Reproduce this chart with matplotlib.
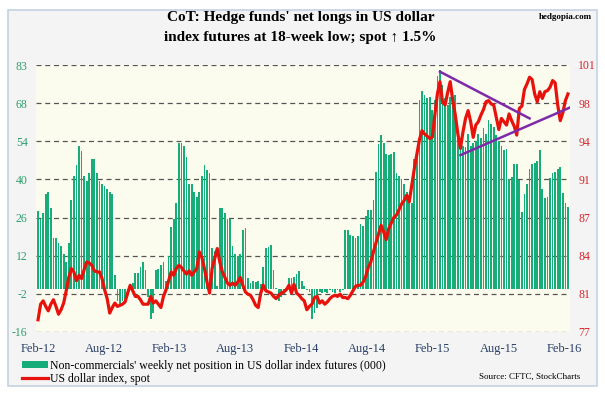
import numpy as np
import matplotlib
matplotlib.use("Agg")
import matplotlib.pyplot as plt
from matplotlib.patches import Rectangle, Patch
from matplotlib.lines import Line2D

plt.rcParams['font.family'] = ['Liberation Serif', 'DejaVu Serif']

# weekly net position of non-commercials, thousands of contracts (Feb-12 .. Feb-16)
net_pos = [
    29, 26, 28, 35, 36, 30, 19, 19, 17, 16, 13, 10, 17,
    33, 42, 46, 53, 51, 42, 40, 43, 48, 48, 43, 40, 39, 38, 37, 36, 35,
    5, -4.5, -5.5, -4.5, -3.8, -1.6, 1, 2, 6, 6, 8, 10, 7, -3, -11, -9, 7, 7.5, 9, 10, 3,
    12, 23, 26, 32, 54, 54, 53, 49, 39, 39, 36, 34, 36, 42, 46, 44, 43, 15, 14, 1,
    30, 30, 28, 26, 26, 16, 13, 12, 13, 22, 22.5, 4, 2, 3, 2.4, 3, 1.7, 8, 15, 15.4,
    16.4, 7, 0.5, -4.5, -3.2, -2, 0.5, 4.2, 4.2, 4.5, 5.5, 6.7, 3, 1,
    -0.5, -1, -11, -9, -7, -1, -1.5, -1, -1.5, -0.5, -1, -1.5, -0.5, -1, -0.5,
    22, 22, 20, 19.7, 18.7, 19.7, 24, 23.4, 27, 29.4, 29.4, 32.8, 43.5, 53.8, 57,
    54, 50, 49.5, 50, 50.7, 43, 41.8, 40.6, 39, 35.9, 33.4, 32, 48.3, 49.5,
    70, 73.3, 72, 70.8, 71.2, 66.3, 70, 79, 81,
    75.6, 70.6, 68, 71, 69.4, 71.8, 58, 55, 53, 52.6, 57.6, 53, 54, 55, 57.6, 56,
    59.7, 57.6, 62.5, 61.3, 60, 57, 55, 53, 51.4, 52, 40.8, 41.4, 46.4, 46.4, 40.2,
    28.4, 35.2, 39, 44.5, 46.4, 46.8, 47.3, 51.4, 37, 33.6, 34, 41, 43, 43.3, 44.3,
    45, 35.6, 31.9, 30.3,
]

# US dollar index, spot (weekly)
dxy = [
    78.1, 79.5, 79.8, 79.3, 78.9, 79.5, 79.9, 79.3, 78.6, 79.0, 79.6, 80.7, 81.9,
    82.7, 82.4, 81.6, 82.1, 81.8, 82.6, 83.3, 83.2, 83.0, 82.5, 82.4, 82.4, 81.8,
    80.8, 80.0, 78.7, 79.2, 79.6, 79.3, 79.4, 79.5, 79.7, 80.5, 81.2, 80.7, 80.2,
    80.2, 79.9, 79.5, 79.5, 79.5, 80.2, 79.6, 79.8, 79.5, 79.2, 80.2, 80.8, 81.6,
    82.4, 82.1, 82.7, 83.0, 82.8, 82.5, 82.2, 82.5, 82.1, 82.4, 82.7, 84.2, 83.7,
    82.7, 81.5, 80.5, 82.7, 83.6, 84.5, 83.3, 82.4, 81.9, 81.4, 81.2, 81.4, 81.2,
    81.5, 81.9, 81.2, 80.6, 80.4, 80.3, 79.9, 79.4, 79.2, 80.5, 81.2, 80.7, 80.6,
    80.5, 80.2, 80.0, 80.3, 80.5, 80.6, 80.8, 81.2, 80.5, 81.3, 80.5, 80.3, 80.0,
    79.8, 79.0, 79.3, 79.5, 80.1, 80.2, 79.6, 79.8, 79.5, 79.7, 80.0, 80.2, 80.3,
    80.2, 80.4, 80.1, 80.1, 80.0, 80.3, 80.7, 81.1, 81.2, 81.2, 81.5, 82.0, 82.8,
    83.3, 84.2, 85.0, 85.8, 86.6, 86.0, 85.3, 86.3, 86.8, 87.3, 87.5, 88.0, 88.5,
    88.8, 89.3, 88.7, 90.2, 91.7, 93.0, 94.3, 95.1, 94.8, 94.6, 94.4, 94.5, 96.5,
    98.4, 99.5, 97.7, 97.4, 98.5, 99.5, 97.8, 96.5, 94.8, 93.5, 95.0, 96.2, 96.9,
    95.9, 94.5, 95.6, 95.9, 96.5, 97.0, 97.7, 97.8, 97.5, 97.4, 96.3, 95.2, 96.2,
    95.9, 95.6, 96.6, 96.0, 95.5, 94.7, 97.1, 97.3, 98.8, 99.3, 99.9, 99.7, 98.4,
    97.7, 98.6, 98.0, 98.6, 98.7, 99.0, 99.6, 99.4, 97.4, 96.0, 96.7, 97.8, 98.4,
]

# trendlines on the dollar index: (week, value) endpoints
upper_trend = [(157, 100.4), (192, 96.2)]
lower_trend = [(165, 92.9), (208, 97.2)]

left_labels = ['-16', '-2', '12', '26', '40', '54', '68', '83']
right_labels = ['77', '81', '84', '87', '91', '94', '98', '101']
x_labels = ['Feb-12', 'Aug-12', 'Feb-13', 'Aug-13', 'Feb-14', 'Aug-14', 'Feb-15', 'Aug-15', 'Feb-16']

green = '#16ad7a'
red = '#e8120c'

fig = plt.figure(figsize=(6.05, 3.95), dpi=100)
fig.patches.append(Rectangle((8 / 605, 1 - 386 / 395), 589 / 605, 376 / 395,
                             transform=fig.transFigure, facecolor='#f3f4f3',
                             edgecolor='#c3d2e2', lw=1.2, zorder=-5))

ax = fig.add_axes([36 / 605, 1 - 332 / 395, 534 / 605, 267 / 395])
ax.set_facecolor('#fcfcee')
ax.bar(np.arange(len(net_pos)), net_pos, width=0.68, color=green, zorder=2)
ax.set_ylim(-16, 83)
ax.set_xlim(-0.8, 207.8)
ax.set_yticks(np.linspace(-16, 83, 8))
ax.set_yticklabels(left_labels, color='#2e9e6e', fontsize=8.5)
ax.set_xticks([k * 25.7 for k in range(len(x_labels))])
ax.set_xticklabels(x_labels, color='#2a3f66', fontsize=9)
ax.tick_params(length=0)
ax.tick_params(axis='x', pad=8)
ax.tick_params(axis='y', pad=6)
for s in ax.spines.values():
    s.set_visible(False)
ax.grid(axis='y', color='#555555', ls=(0, (4, 3)), lw=0.9, zorder=1)
ax.set_axisbelow(True)

ax2 = ax.twinx()
ax2.plot(np.arange(len(dxy)), dxy, color=red, lw=2.3, zorder=3)
for seg in (upper_trend, lower_trend):
    ax2.plot([p[0] for p in seg], [p[1] for p in seg], color='#7d2aa8', lw=1.8, zorder=4)
ax2.set_ylim(77, 101)
ax2.set_yticks(np.linspace(77, 101, 8))
ax2.set_yticklabels(right_labels, color='#d9232a', fontsize=8.5)
ax2.tick_params(length=0, pad=6)
for s in ax2.spines.values():
    s.set_visible(False)

fig.text(0.497, 1 - 18 / 395, "CoT: Hedge funds' net longs in US dollar", ha='center', va='center',
         fontsize=11, fontweight='bold')
fig.text(0.497, 1 - 37 / 395, "index futures at 18-week low; spot \u2191 1.5%", ha='center', va='center',
         fontsize=11, fontweight='bold')
fig.text(592 / 605, 1 - 17 / 395, 'hedgopia.com', ha='right', va='center', fontsize=6.5, fontweight='bold')

handles = [Patch(facecolor=green, edgecolor='none'), Line2D([], [], color=red, lw=2.3)]
leg = fig.legend(handles, ["Non-commercials' weekly net position in US dollar index futures (000)",
                           "US dollar index, spot"],
                 loc='upper left', bbox_to_anchor=(16 / 605, 1 - 354 / 395), frameon=False,
                 fontsize=8.5, handlelength=2.2, handleheight=0.6, handletextpad=0.15,
                 labelspacing=0.1, borderpad=0)
fig.text(580 / 605, 1 - 377 / 395, 'Source: CFTC, StockCharts', ha='right', va='center', fontsize=6.5)

fig.savefig('out.png', dpi=100)
